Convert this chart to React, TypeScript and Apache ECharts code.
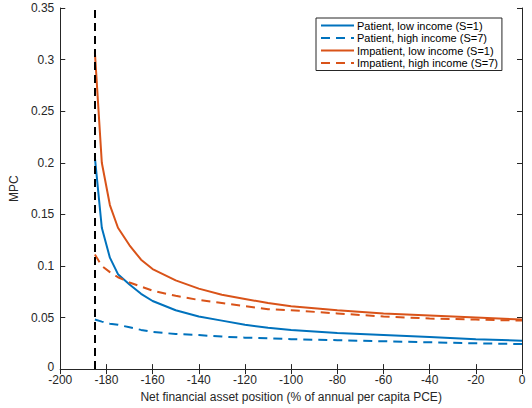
import React, { useEffect, useRef } from 'react';
import * as echarts from 'echarts';

// shared x grid (net financial asset position, % of annual per capita PCE)
const assetGrid = [-185, -182, -178.5, -175, -170, -165, -160, -150, -140, -130, -120, -110, -100, -80, -60, -40, -20, 0];

const patientLow = [0.205, 0.137, 0.108, 0.092, 0.082, 0.073, 0.066, 0.057, 0.051, 0.047, 0.043, 0.04, 0.038, 0.035, 0.033, 0.031, 0.029, 0.0275];
const patientHigh = [0.048, 0.046, 0.044, 0.043, 0.0405, 0.038, 0.036, 0.034, 0.033, 0.0315, 0.0305, 0.03, 0.029, 0.028, 0.027, 0.026, 0.025, 0.0243];
const impatientLow = [0.307, 0.2, 0.159, 0.137, 0.12, 0.106, 0.097, 0.086, 0.078, 0.072, 0.068, 0.064, 0.061, 0.057, 0.054, 0.052, 0.05, 0.048];
const impatientHigh = [0.111, 0.1, 0.094, 0.089, 0.084, 0.08, 0.076, 0.071, 0.067, 0.064, 0.061, 0.058, 0.057, 0.054, 0.051, 0.049, 0.048, 0.047];

const seriesNames = [
  'Patient, low income (S=1)',
  'Patient, high income (S=7)',
  'Impatient, low income (S=1)',
  'Impatient, high income (S=7)',
];

const borrowingLimit = -185;

const BLUE = '#0072BD';
const ORANGE = '#D95319';
const INK = '#262626';
const FONT = 'Liberation Sans, Arial, Helvetica, sans-serif';

const toPairs = (ys: number[]) => assetGrid.map((x, i) => [x, ys[i]]);

const App: React.FC = () => {
  const chartRef = useRef<HTMLDivElement>(null);

  useEffect(() => {
    if (!chartRef.current) return;
    const chart = echarts.init(chartRef.current, undefined, { renderer: 'svg' });

    const lineSeries = (name: string, ys: number[], color: string, dashed: boolean, withLimit = false) => ({
      name,
      type: 'line' as const,
      data: toPairs(ys),
      showSymbol: false,
      symbol: 'none',
      smooth: false,
      lineStyle: { color, width: 2, type: dashed ? [9, 6] : 'solid' },
      itemStyle: { color },
      z: 3,
      ...(withLimit
        ? {
            markLine: {
              silent: true,
              symbol: 'none',
              label: { show: false },
              lineStyle: { color: '#000', width: 2, type: [8, 5] },
              data: [{ xAxis: borrowingLimit }],
            },
          }
        : {}),
    });

    const hiddenAxis = {
      show: true,
      axisLine: { show: true, lineStyle: { color: INK, width: 1 } },
      axisTick: { show: true, inside: true, length: 5, lineStyle: { color: INK } },
      axisLabel: { show: false },
      splitLine: { show: false },
    };

    chart.setOption({
      animation: false,
      backgroundColor: '#fff',
      textStyle: { fontFamily: FONT },
      grid: { left: 59, right: 10, top: 8, bottom: 35 },
      legend: {
        data: seriesNames,
        orient: 'vertical',
        left: 316,
        top: 18,
        itemWidth: 33,
        itemHeight: 10,
        itemGap: 1.5,
        padding: [2, 4, 2, 4],
        borderColor: INK,
        borderWidth: 1,
        backgroundColor: '#fff',
        selectedMode: false,
        itemStyle: { opacity: 0, borderWidth: 0 },
        textStyle: { fontSize: 11, color: '#000', fontFamily: FONT, padding: [0, 0, 0, -2] },
      },
      xAxis: [
        {
          type: 'value',
          min: -200,
          max: 0,
          interval: 20,
          name: 'Net financial asset position (% of annual per capita PCE)',
          nameLocation: 'middle',
          nameGap: 19,
          nameTextStyle: { fontSize: 12, color: INK, fontFamily: FONT },
          axisLine: { show: true, onZero: false, lineStyle: { color: INK, width: 1 } },
          axisTick: { show: true, inside: true, length: 5, lineStyle: { color: INK } },
          axisLabel: { fontSize: 12, color: INK, margin: 5, fontFamily: FONT },
          splitLine: { show: false },
        },
        { ...hiddenAxis, type: 'value', position: 'top', min: -200, max: 0, interval: 20 },
      ],
      yAxis: [
        {
          type: 'value',
          min: 0,
          max: 0.35,
          interval: 0.05,
          name: 'MPC',
          nameLocation: 'middle',
          nameGap: 33,
          nameTextStyle: { fontSize: 12, color: INK, fontFamily: FONT },
          axisLine: { show: true, onZero: false, lineStyle: { color: INK, width: 1 } },
          axisTick: { show: true, inside: true, length: 5, lineStyle: { color: INK } },
          axisLabel: {
            fontSize: 12,
            color: INK,
            margin: 6,
            fontFamily: FONT,
            formatter: (v: number) => (v === 0 ? '{z|0}' : String(+v.toFixed(2))),
            rich: { z: { fontSize: 12, color: INK, fontFamily: FONT, padding: [0, 0, 5, 0] } },
          },
          splitLine: { show: false },
        },
        { ...hiddenAxis, type: 'value', position: 'right', min: 0, max: 0.35, interval: 0.05 },
      ],
      series: [
        lineSeries(seriesNames[0], patientLow, BLUE, false, true),
        lineSeries(seriesNames[1], patientHigh, BLUE, true),
        lineSeries(seriesNames[2], impatientLow, ORANGE, false),
        lineSeries(seriesNames[3], impatientHigh, ORANGE, true),
      ],
    });

    return () => {
      chart.dispose();
    };
  }, []);

  return (
    <div
      ref={chartRef}
      style={{ position: 'fixed', left: 0, top: 0, width: '532px', height: '408px' }}
    ></div>
  );
};

export default App;
